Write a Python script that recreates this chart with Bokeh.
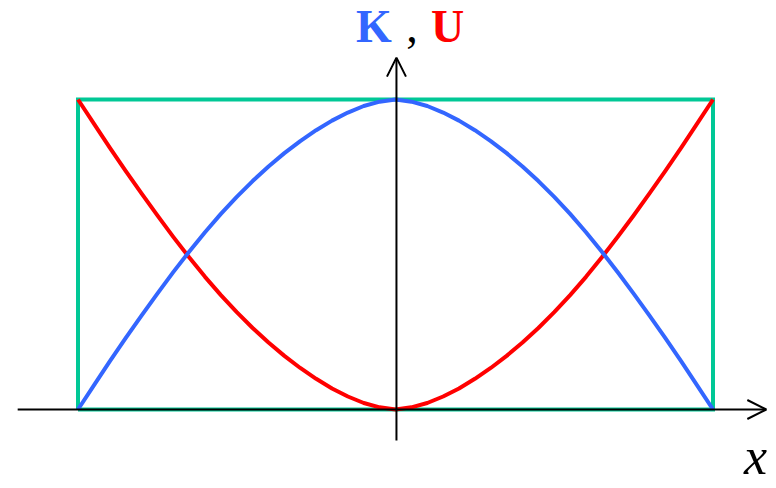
from bokeh.plotting import figure
from bokeh.models import Range1d, Arrow, OpenHead, Label
from bokeh.embed import file_html
from bokeh.resources import INLINE

# Position along the oscillation, in units of the amplitude A (right half; mirrored)
x_half = [0.0, 0.05, 0.10, 0.15, 0.20, 0.25, 0.30, 0.35, 0.40, 0.45, 0.50,
          0.55, 0.60, 0.65, 0.70, 0.75, 0.80, 0.85, 0.90, 0.95, 1.0]
# Potential energy U and kinetic energy K, in units of the total energy E
u_half = [0.0, 0.007, 0.021, 0.042, 0.068, 0.099, 0.134, 0.173, 0.216, 0.263, 0.314,
          0.369, 0.428, 0.491, 0.557, 0.626, 0.697, 0.770, 0.845, 0.922, 1.0]
k_half = [1.0, 0.993, 0.979, 0.958, 0.932, 0.901, 0.866, 0.827, 0.784, 0.737, 0.686,
          0.631, 0.572, 0.509, 0.443, 0.374, 0.303, 0.230, 0.155, 0.078, 0.0]
# Total energy level and turning points
energy_total = 1.0
amplitude = 1.0

xs = [-v for v in reversed(x_half[1:])] + x_half
us = list(reversed(u_half[1:])) + u_half
ks = list(reversed(k_half[1:])) + k_half

GREEN = "#00C896"
BLUE = "#3366FF"
RED = "#FF0000"

p = figure(width=776, height=488, output_backend="svg", toolbar_location=None,
           x_range=Range1d(-1.2441, 1.2), y_range=Range1d(-0.2548, 1.3194),
           min_border=0, outline_line_color=None)
p.axis.visible = False
p.grid.visible = False
p.background_fill_color = "white"
p.border_fill_color = "white"

# Total-energy box between the turning points
p.line([-amplitude, -amplitude, amplitude, amplitude, -amplitude],
       [0, energy_total, energy_total, 0, 0],
       line_color=GREEN, line_width=4, line_join="miter")

p.line(xs, us, line_color=RED, line_width=4, line_join="round")
p.line(xs, ks, line_color=BLUE, line_width=4, line_join="round")

# Coordinate axes with open arrow heads
p.add_layout(Arrow(end=OpenHead(size=19, line_width=2, line_color="black"),
                   x_start=-1.19, y_start=0, x_end=1.168, y_end=0,
                   line_width=2, line_color="black"))
p.add_layout(Arrow(end=OpenHead(size=19, line_width=2, line_color="black"),
                   x_start=0.003, y_start=-0.1, x_end=0.003, y_end=1.135,
                   line_width=2, line_color="black"))

serif = "Liberation Serif"
title_y = 1.236
p.add_layout(Label(x=-0.068, y=title_y, text="K", text_color=BLUE, text_font=serif,
                   text_font_style="bold", text_font_size="46px",
                   text_align="center", text_baseline="alphabetic"))
p.add_layout(Label(x=0.052, y=title_y, text=",", text_color="black", text_font=serif,
                   text_font_size="46px",
                   text_align="center", text_baseline="alphabetic"))
p.add_layout(Label(x=0.164, y=title_y, text="U", text_color=RED, text_font=serif,
                   text_font_style="bold", text_font_size="46px",
                   text_align="center", text_baseline="alphabetic"))
p.add_layout(Label(x=1.134, y=-0.152, text="x", text_color="black", text_font=serif,
                   text_font_style="italic", text_font_size="52px",
                   text_align="center", text_baseline="alphabetic"))

open("out.html", "w").write(file_html(p, INLINE))
